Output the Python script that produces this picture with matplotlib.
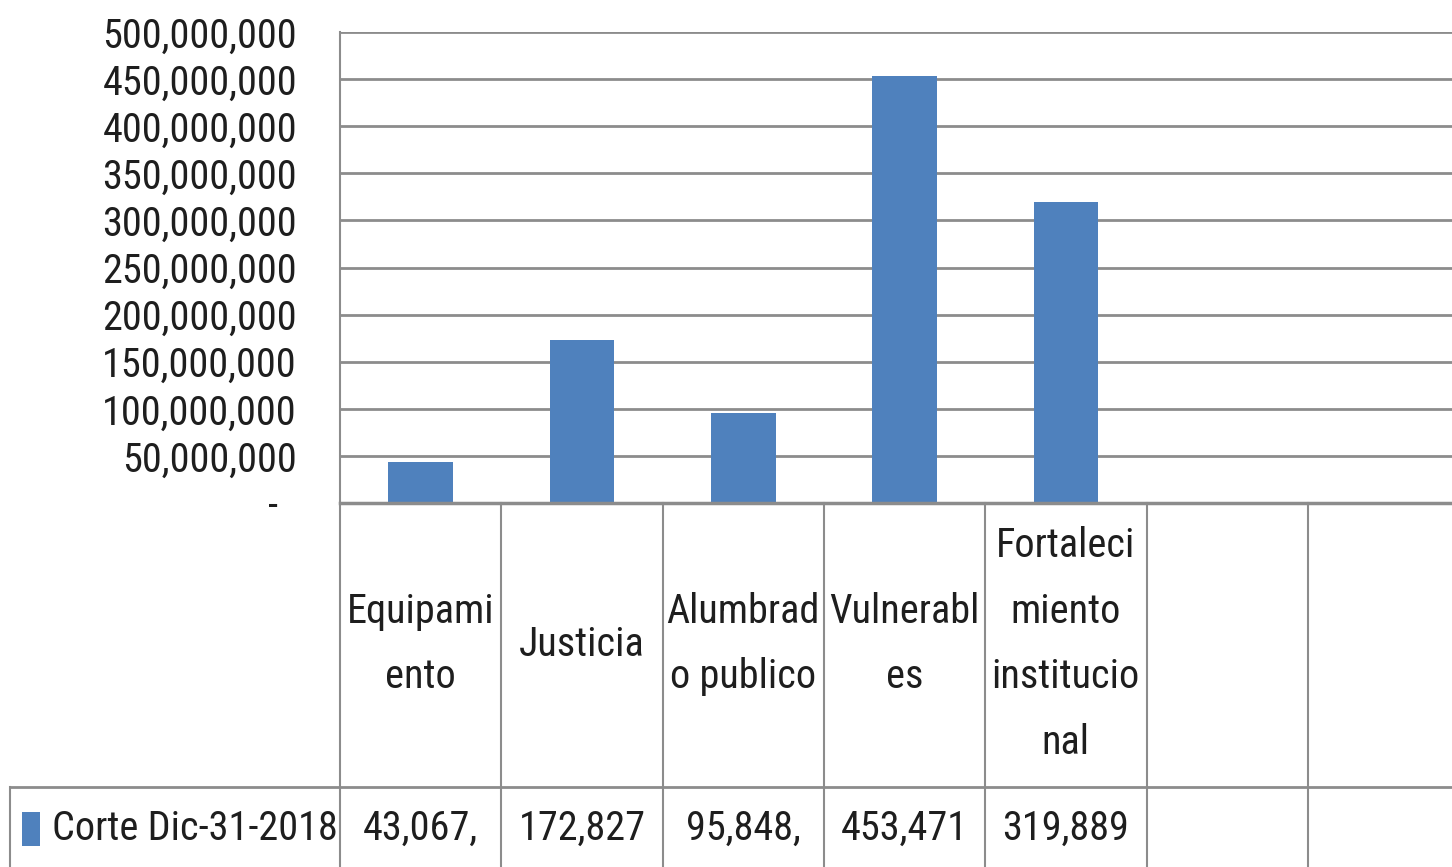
import matplotlib
matplotlib.use("Agg")
import matplotlib.pyplot as plt
from matplotlib import font_manager as fm
from matplotlib.transforms import blended_transform_factory
from matplotlib.lines import Line2D
from matplotlib.patches import Rectangle

# ---------------- data ----------------
categories = ["Equipami\nento", "Justicia", "Alumbrad\no publico", "Vulnerabl\nes",
              "Fortaleci\nmiento\ninstitucio\nnal", "", ""]
values = [43067000, 172827000, 95848000, 453471000, 319889000, None, None]
table_text = ["43,067,", "172,827", "95,848,", "453,471", "319,889", "", ""]
series_name = "Corte Dic-31-2018"
yticks = [0, 50000000, 100000000, 150000000, 200000000, 250000000,
          300000000, 350000000, 400000000, 450000000, 500000000]

# ---------------- font ----------------
names = {f.name for f in fm.fontManager.ttflist}
FONT = "DejaVu Sans"
for cand in ["Liberation Sans Narrow", "DejaVu Sans Condensed", "Roboto Condensed",
             "Open Sans Condensed", "Liberation Sans"]:
    if cand in names:
        FONT = cand
        break
plt.rcParams["font.family"] = [FONT, "DejaVu Sans"]

BLUE = "#4F81BD"
GRID = "#8C8C8C"
TXT = "#1E1E1E"
FS = 29

W, H = 1452, 867
fig = plt.figure(figsize=(W / 100, H / 100), dpi=100)
fig.patch.set_facecolor("white")

col_w = 161.3
x0, y_top, y_zero = 340, 32, 503
ncol = len(categories)
ax = fig.add_axes([x0 / W, 1 - y_zero / H, ncol * col_w / W, (y_zero - y_top) / H])
ax.set_facecolor("white")

bar_x = [i for i, v in enumerate(values) if v is not None]
bar_v = [v for v in values if v is not None]
ax.bar(bar_x, bar_v, width=0.4, color=BLUE, zorder=3)

ax.set_xlim(-0.5, ncol - 0.5)
ax.set_ylim(0, 500000000)
ax.set_yticks(yticks)
ax.set_yticklabels(["-  " if t == 0 else f"{t:,}" for t in yticks],
                   fontsize=FS, color=TXT)
ax.tick_params(axis="y", length=0, pad=31)
ax.tick_params(axis="x", length=0, labelbottom=False)
ax.grid(axis="y", color=GRID, linewidth=2, zorder=1)
for s in ["top", "right", "bottom"]:
    ax.spines[s].set_visible(False)
ax.spines["left"].set_color(GRID)
ax.spines["left"].set_linewidth(1.5)

# ---------------- data table ----------------
tr = blended_transform_factory(ax.transData, fig.transFigure)
def fy(px):
    return 1 - px / H

fig.add_artist(Line2D([x0 / W, 1.05], [fy(y_zero), fy(y_zero)], color=GRID, lw=2.5))
fig.add_artist(Line2D([10 / W, 1.05], [fy(787), fy(787)], color=GRID, lw=2))
fig.add_artist(Line2D([10 / W, 10 / W], [fy(787), fy(880)], color=GRID, lw=1.5))
for i in range(ncol + 1):
    xb = i - 0.5
    fig.add_artist(Line2D([xb, xb], [fy(y_zero), fy(880)], color=GRID, lw=1.5,
                          transform=tr))

for i, c in enumerate(categories):
    if c:
        fig.text(i, fy(644), c, transform=tr, ha="center", va="center",
                 fontsize=FS, color=TXT, linespacing=1.86, multialignment="center")
for i, t in enumerate(table_text):
    if t:
        fig.text(i, fy(828), t, transform=tr, ha="center", va="center",
                 fontsize=FS, color=TXT)

fig.add_artist(Rectangle((22 / W, fy(846)), 18 / W, 34 / H, transform=fig.transFigure,
                         facecolor=BLUE, edgecolor="none"))
fig.text(52 / W, fy(828), series_name, ha="left", va="center", fontsize=FS, color=TXT)

fig.savefig("out.png", dpi=100, facecolor="white")
